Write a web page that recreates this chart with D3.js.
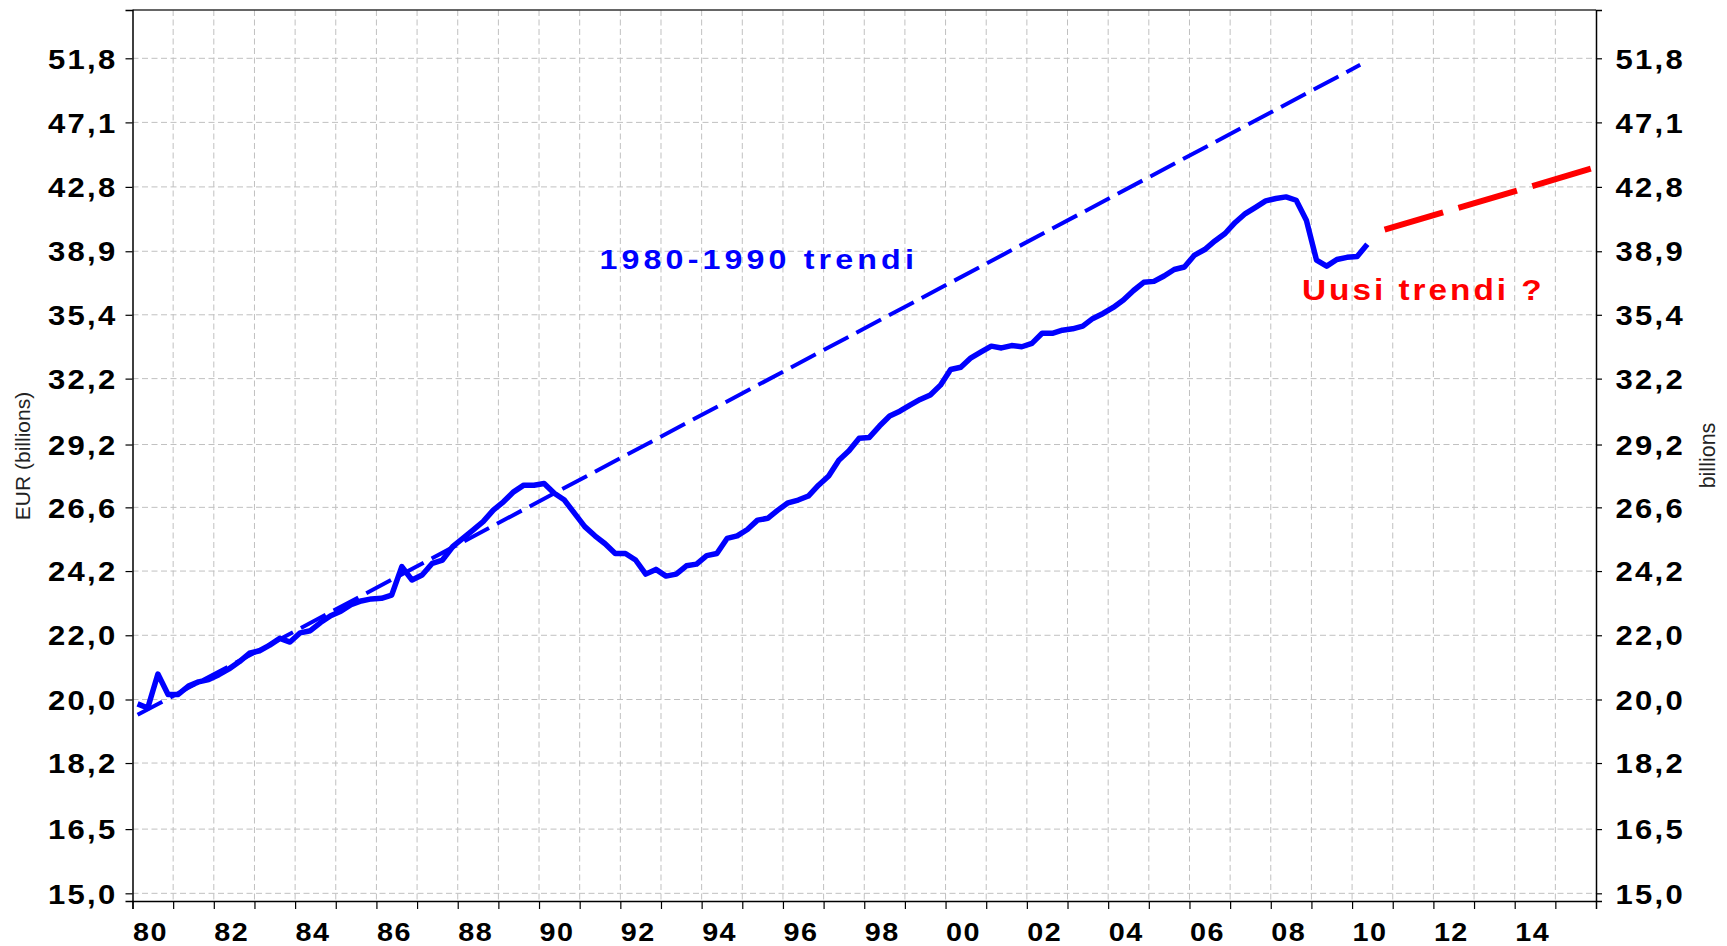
<!DOCTYPE html>
<html>
<head>
<meta charset="utf-8">
<script src="https://cdn.jsdelivr.net/npm/d3@7"></script>
<style>
  html, body { margin: 0; padding: 0; background: #fff; }
  svg { display: block; }
  .lbl { font-family: "Liberation Sans", Arial, sans-serif; font-weight: bold; }
</style>
</head>
<body>
<svg id="chart" width="1727" height="946"></svg>
<script>
// ---------------- DATA ----------------
const startYear = 1980;              // first quarter = 1980Q1
const gdpQuarterly = [               // EUR billions, quarterly 1980Q1 .. 2010Q2
  19.87, 19.75, 20.77, 20.15,
  20.15, 20.40, 20.53, 20.60,
  20.75, 20.93, 21.15, 21.42,
  21.50, 21.68, 21.90, 21.78,
  22.08, 22.15, 22.42, 22.65,
  22.80, 23.02, 23.15, 23.22,
  23.24, 23.35, 24.36, 23.88,
  24.06, 24.48, 24.60, 25.09,
  25.40, 25.72, 26.04, 26.49,
  26.82, 27.22, 27.49, 27.49,
  27.56, 27.16, 26.89, 26.36,
  25.85, 25.50, 25.20, 24.84,
  24.84, 24.60, 24.09, 24.26,
  24.02, 24.09, 24.39, 24.45,
  24.76, 24.84, 25.40, 25.50,
  25.74, 26.10, 26.17, 26.49,
  26.78, 26.89, 27.05, 27.49,
  27.87, 28.53, 28.93, 29.47,
  29.51, 30.01, 30.46, 30.68,
  30.96, 31.22, 31.43, 31.89,
  32.64, 32.75, 33.21, 33.50,
  33.79, 33.70, 33.82, 33.76,
  33.93, 34.44, 34.44, 34.60,
  34.67, 34.81, 35.21, 35.47,
  35.79, 36.18, 36.70, 37.15,
  37.20, 37.50, 37.86, 38.00,
  38.68, 39.00, 39.50, 39.94,
  40.60, 41.14, 41.52, 41.92,
  42.07, 42.17, 41.96, 40.74,
  38.39, 38.05, 38.43, 38.55,
  38.60, 39.31
];
const trend8090Years  = [1980.125, 2010.2];
const trend8090Values = [19.55, 51.3];
const newTrendYears   = [2010.8, 2016];
const newTrendValues  = [40.17, 44.07];

const yTickValues = [15.0, 16.5, 18.2, 20.0, 22.0, 24.2, 26.6, 29.2, 32.2, 35.4, 38.9, 42.8, 47.1, 51.8];
const xTickYears  = d3.range(1980, 2016);
const xLabelYears = [1980,1982,1984,1986,1988,1990,1992,1994,1996,1998,2000,2002,2004,2006,2008,2010,2012,2014];
const yDomain = [14.83, 55.65];
const xDomain = [1980, 2016];

const annoTrendOld = "1980-1990 trendi";
const annoTrendNew = "Uusi trendi ?";
const leftTitle = "EUR (billions)";
const rightTitle = "billions";

// ---------------- LAYOUT ----------------
const L = 132.5, R = 1596, T = 10, B = 901;
const SX = 1.15; // horizontal stretch of the original picture's glyphs

const svg = d3.select("#chart");
const x = d3.scaleLinear().domain(xDomain).range([L, R]);
const y = d3.scaleLog().domain(yDomain).range([B, T]);

// grid
const grid = svg.append("g");
grid.selectAll("line.v").data(xTickYears.filter(d => d > xDomain[0]))
  .join("line").attr("class", "v")
  .attr("x1", d => x(d)).attr("x2", d => x(d))
  .attr("y1", T).attr("y2", B)
  .attr("stroke", "#c0c0c0").attr("stroke-width", 1).attr("stroke-dasharray", "6,3.5");
grid.selectAll("line.h").data(yTickValues)
  .join("line").attr("class", "h")
  .attr("x1", L).attr("x2", R)
  .attr("y1", d => y(d)).attr("y2", d => y(d))
  .attr("stroke", "#c0c0c0").attr("stroke-width", 1).attr("stroke-dasharray", "6,3.5");

// top border
svg.append("line").attr("x1", L).attr("x2", R).attr("y1", T).attr("y2", T)
  .attr("stroke", "#333").attr("stroke-width", 1.5);

const fmt = d => d.toFixed(1).replace(".", ",");

// left axis
const gL = svg.append("g").attr("transform", `translate(${L},0)`)
  .call(d3.axisLeft(y).tickValues(yTickValues).tickSize(7).tickFormat(fmt));
// right axis
const gR = svg.append("g").attr("transform", `translate(${R},0)`)
  .call(d3.axisRight(y).tickValues(yTickValues).tickSize(6).tickFormat(fmt));
// bottom axis
const gB = svg.append("g").attr("transform", `translate(0,${B})`)
  .call(d3.axisBottom(x).tickValues(xTickYears).tickSize(8)
        .tickFormat(d => xLabelYears.includes(d) ? String(d % 100).padStart(2, "0") : ""));

[gL, gR, gB].forEach(g => {
  g.select(".domain").attr("stroke", "#000").attr("stroke-width", 1.5);
  g.selectAll(".tick line").attr("stroke", "#000").attr("stroke-width", 1.2);
  g.selectAll(".tick text").attr("class", "lbl").attr("fill", "#000")
    .attr("dy", null).attr("x", null).attr("y", null);
});
gL.selectAll(".tick text").attr("font-size", 27).attr("letter-spacing", 2)
  .attr("text-anchor", "end").attr("transform", `translate(-15,9.7) scale(${SX},1)`);
gR.selectAll(".tick text").attr("font-size", 27).attr("letter-spacing", 2)
  .attr("text-anchor", "start").attr("transform", `translate(19.5,9.7) scale(${SX},1)`);
gB.selectAll(".tick text").attr("font-size", 25).attr("letter-spacing", 1.3)
  .attr("text-anchor", "start").attr("transform", `translate(0,39.6) scale(${SX},1)`);

// series
svg.append("clipPath").attr("id", "plotclip")
  .append("rect").attr("x", L).attr("y", T).attr("width", R - L).attr("height", B - T);

const trendLine = d3.line().x(d => x(d[0])).y(d => y(d[1]));
svg.append("path")
  .datum(d3.zip(trend8090Years, trend8090Values))
  .attr("d", trendLine).attr("fill", "none")
  .attr("stroke", "#0000ff").attr("stroke-width", 4).attr("stroke-dasharray", "28,9");

svg.append("path")
  .datum(d3.zip(newTrendYears, newTrendValues))
  .attr("clip-path", "url(#plotclip)")
  .attr("d", trendLine).attr("fill", "none")
  .attr("stroke", "#ff0000").attr("stroke-width", 6).attr("stroke-dasharray", "61,16");

const mainLine = d3.line()
  .x((d, i) => x(startYear + (i + 0.5) / 4))
  .y(d => y(d));
svg.append("path").datum(gdpQuarterly)
  .attr("d", mainLine).attr("fill", "none")
  .attr("stroke", "#0000ff").attr("stroke-width", 5.5).attr("stroke-linejoin", "round");

// annotations
svg.append("text").attr("class", "lbl").text(annoTrendOld)
  .attr("fill", "#0000ff").attr("font-size", 28).attr("letter-spacing", 3.6)
  .attr("transform", `translate(599.5,269.3) scale(${SX},1)`);
svg.append("text").attr("class", "lbl").text(annoTrendNew)
  .attr("fill", "#ff0000").attr("font-size", 29).attr("letter-spacing", 2.6)
  .attr("transform", `translate(1302,299.5) scale(${SX},1)`);

// axis titles
svg.append("text").text(leftTitle)
  .attr("font-family", "Liberation Sans, Arial, sans-serif").attr("font-size", 21)
  .attr("fill", "#222").attr("text-anchor", "middle")
  .attr("transform", `translate(30,456) rotate(-90)`);
svg.append("text").text(rightTitle)
  .attr("font-family", "Liberation Sans, Arial, sans-serif").attr("font-size", 21.5)
  .attr("fill", "#222").attr("text-anchor", "middle")
  .attr("transform", `translate(1714.5,455.5) rotate(-90)`);
</script>
</body>
</html>
